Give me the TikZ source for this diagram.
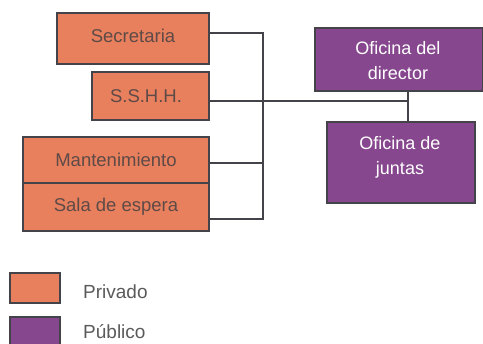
\documentclass[tikz,border=0pt]{standalone}
\usepackage{fontspec}
\setmainfont{Liberation Sans}
\usetikzlibrary{calc}
\definecolor{priv}{HTML}{E8805E}
\definecolor{pub}{HTML}{87478E}
\definecolor{edge}{HTML}{45434A}
\definecolor{ptext}{HTML}{5E4A46}
\definecolor{ltext}{HTML}{5A5A5A}
\tikzset{
  privbox/.style={draw=edge, line width=1.3pt, fill=priv, text=ptext, font=\fontsize{18.5}{20}\selectfont, inner sep=0pt, align=center},
  pubbox/.style={draw=edge, line width=1.3pt, fill=pub, text=white, font=\fontsize{18}{25}\selectfont, inner sep=0pt, align=center},
  link/.style={draw=edge, line width=1.4pt},
  legtext/.style={text=ltext, font=\fontsize{19}{20}\selectfont, anchor=west, inner sep=0pt}
}
\begin{document}
\begin{tikzpicture}[x=1pt, y=-1pt]
\useasboundingbox (0,0) rectangle (483,344);
\node[privbox, minimum width=152pt, minimum height=51pt] (sec) at (133,38.5) {};
\node[privbox, minimum width=117pt, minimum height=48pt] (sshh) at (150.5,96) {};
\node[privbox, minimum width=186pt, minimum height=46pt] (mant) at (116,160) {};
\node[privbox, minimum width=186pt, minimum height=48pt] (sala) at (116,207) {};
\node[privbox, draw=none, fill=none] (tsec) at (133,35.5) {Secretaria};
\node[privbox, draw=none, fill=none] (tsshh) at (146,96) {S.S.H.H.};
\node[privbox, draw=none, fill=none] (tmant) at (116,160) {Mantenimiento};
\node[privbox, draw=none, fill=none] (tsala) at (116,207) {Sala de espera};
\node[pubbox, minimum width=168pt, minimum height=63pt] (dir) at (399,59.5) {};
\node[pubbox, minimum width=148pt, minimum height=81pt] (jun) at (401,162.5) {};
\node[pubbox, draw=none, fill=none] (tdir) at (398,61) {Oficina del\\director};
\node[pubbox, draw=none, fill=none] (tjun) at (400,157) {Oficina de\\juntas};
\coordinate (bt) at (263,33);
\coordinate (bm) at (263,163);
\coordinate (bb) at (263,219);
\coordinate (j) at (408,101);
\draw[link] (sec.east |- bt) -- (bt) -- (bb) -- (sala.east |- bb);
\draw[link] (mant.east |- bm) -- (bm);
\draw[link] (sshh.east |- j) -- (j);
\draw[link] (dir.south -| j) -- (jun.north -| j);
\node[draw=edge, line width=1.3pt, fill=priv, minimum width=50pt, minimum height=30pt, inner sep=0pt] (lp) at (35,288) {};
\node[draw=edge, line width=1.3pt, fill=pub, minimum width=50pt, minimum height=30pt, inner sep=0pt] (lu) at (35,332) {};
\node[legtext] (tp) at (83,292) {Privado};
\node[legtext] (tu) at (83,332) {Público};
\end{tikzpicture}
\end{document}
